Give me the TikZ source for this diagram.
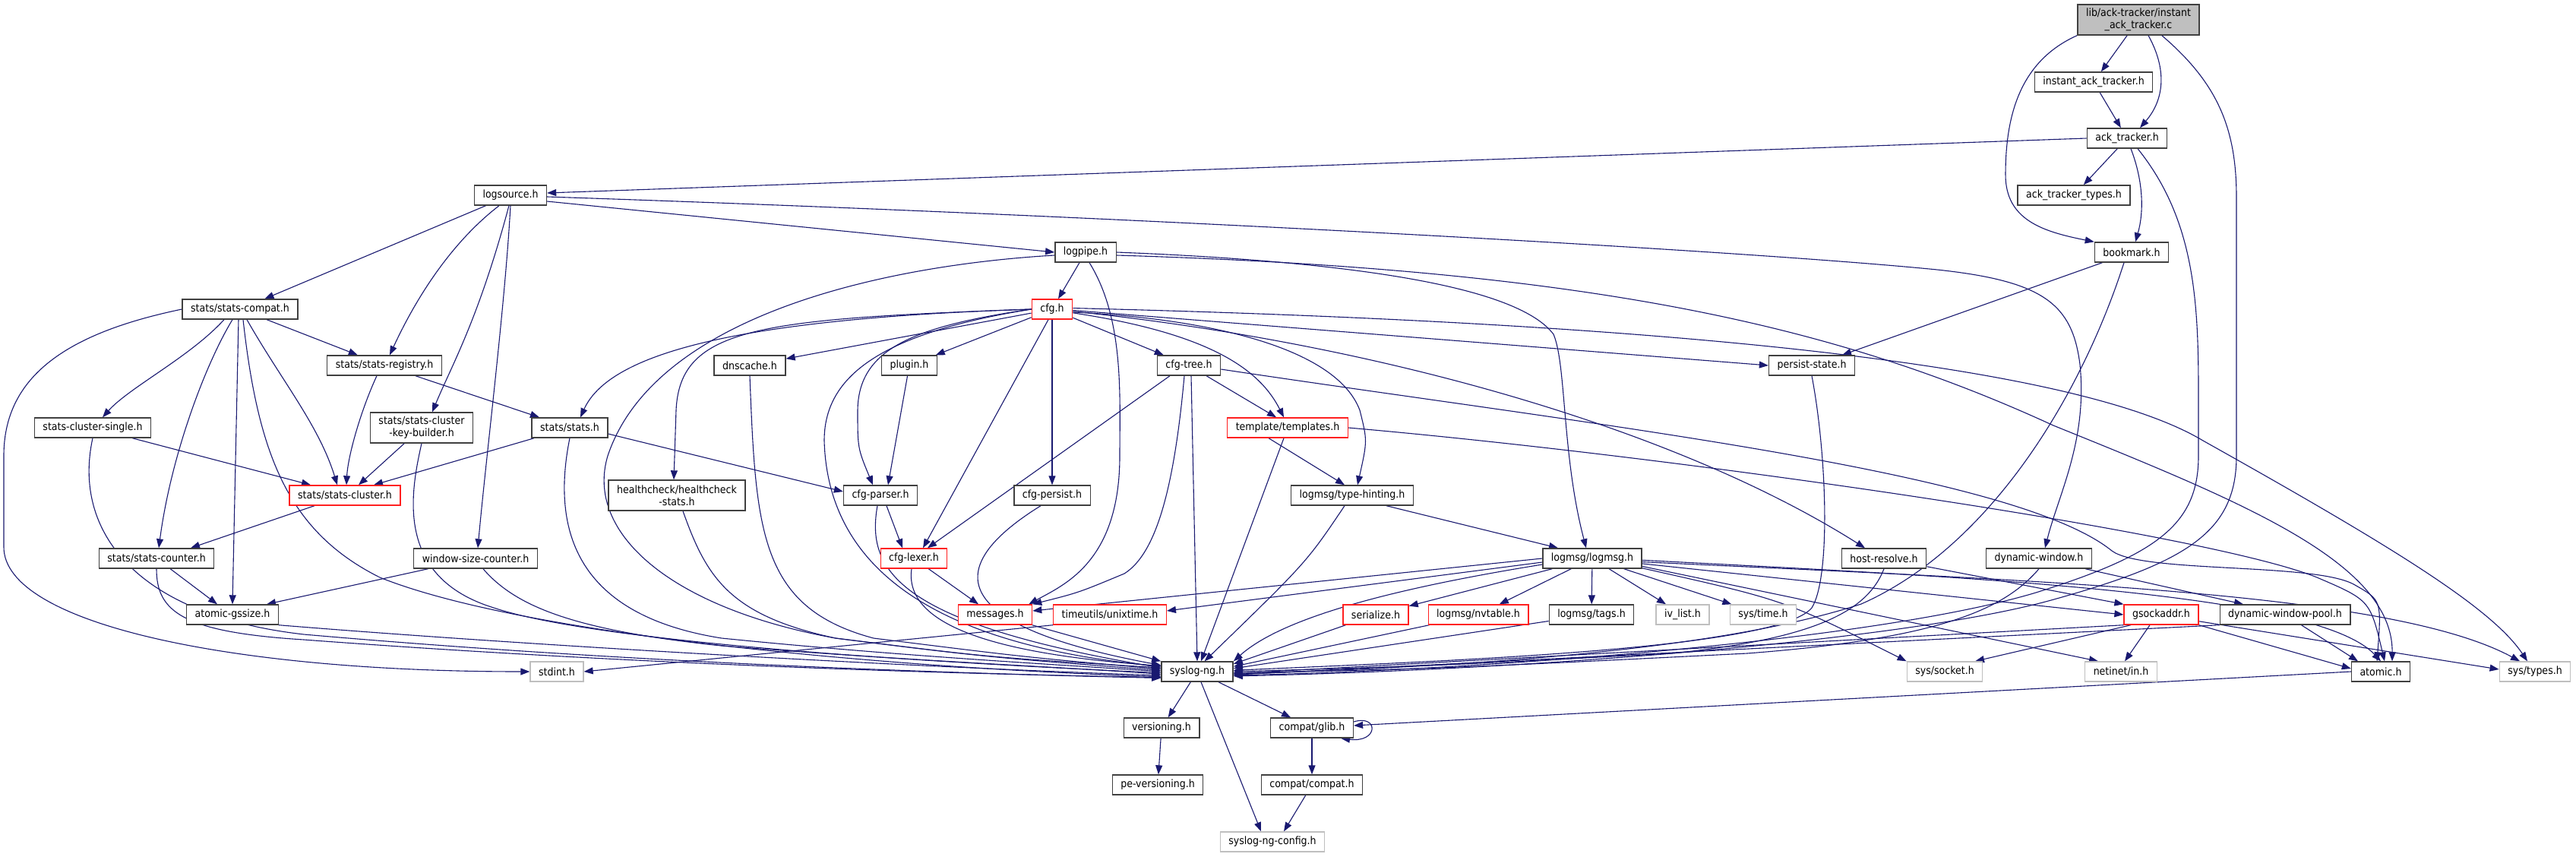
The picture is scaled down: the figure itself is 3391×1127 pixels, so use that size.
\documentclass[tikz,border=0pt]{standalone}
\usepackage{fontspec}
\setmainfont{DejaVu Sans Condensed}
\usetikzlibrary{arrows.meta,calc}
\pgfdeclarelayer{bg}
\pgfsetlayers{bg,main}
\definecolor{edgec}{HTML}{191970}
\definecolor{bord}{HTML}{404040}
\definecolor{greyb}{HTML}{BFBFBF}
\definecolor{redb}{HTML}{FF2020}
\begin{document}
\begin{tikzpicture}[x=1pt,y=-1pt,
  nd/.style={draw=bord,line width=1.4pt,fill=white,inner xsep=11pt,inner ysep=0pt,minimum height=26pt,font=\fontsize{14}{16}\selectfont,text=black},
  nd2/.style={nd,align=center,minimum height=40pt},
  rd/.style={nd,draw=redb},
  gd/.style={nd,draw=greyb},
  edg/.style={draw=edgec,line width=1.1pt,-{Triangle[length=12pt,width=9pt]}}]
\useasboundingbox (0,0) rectangle (3391,1127);
% nodes
\node[nd2,fill=greyb] (root) at (2815,26) {lib/ack-tracker/instant\\\_ack\_tracker.c};
\node[nd] (iat) at (2756,108) {instant\_ack\_tracker.h};
\node[nd] (at) at (2800,182) {ack\_tracker.h};
\node[nd] (att) at (2730,257) {ack\_tracker\_types.h};
\node[nd] (bm) at (2806,332) {bookmark.h};
\node[nd] (ls) at (672,257) {logsource.h};
\node[nd] (lp) at (1429,332) {logpipe.h};
\node[nd] (sc) at (316,407) {stats/stats-compat.h};
\node[rd] (cfg) at (1385,407) {cfg.h};
\node[nd] (sr) at (506,481) {stats/stats-registry.h};
\node[nd] (dns) at (987,481) {dnscache.h};
\node[nd] (plg) at (1197,481) {plugin.h};
\node[nd] (ctree) at (1565,481) {cfg-tree.h};
\node[nd] (ps) at (2385,481) {persist-state.h};
\node[nd] (scs) at (122,563) {stats-cluster-single.h};
\node[nd2] (skb) at (555,563) {stats/stats-cluster\\-key-builder.h};
\node[nd] (st) at (750,563) {stats/stats.h};
\node[rd] (tpl) at (1695,563) {template/templates.h};
\node[rd] (scl) at (454,652) {stats/stats-cluster.h};
\node[nd2] (hc) at (891,652) {healthcheck/healthcheck\\-stats.h};
\node[nd] (cp) at (1159,652) {cfg-parser.h};
\node[nd] (cpe) at (1385,652) {cfg-persist.h};
\node[nd] (th) at (1780,652) {logmsg/type-hinting.h};
\node[nd] (sco) at (206,735) {stats/stats-counter.h};
\node[nd] (wsc) at (626,735) {window-size-counter.h};
\node[rd] (lex) at (1203,735) {cfg-lexer.h};
\node[nd] (lm) at (2096,735) {logmsg/logmsg.h};
\node[nd] (hr) at (2480,735) {host-resolve.h};
\node[nd] (dw) at (2684,735) {dynamic-window.h};
\node[nd] (ag) at (306,809) {atomic-gssize.h};
\node[rd] (msg) at (1310,809) {messages.h};
\node[rd] (ut) at (1461,809) {timeutils/unixtime.h};
\node[rd] (ser) at (1811,809) {serialize.h};
\node[rd] (nvt) at (1946,809) {logmsg/nvtable.h};
\node[nd] (tags) at (2095,809) {logmsg/tags.h};
\node[gd] (ivl) at (2215,809) {iv\_list.h};
\node[gd] (stime) at (2321,809) {sys/time.h};
\node[rd] (gsa) at (2845,809) {gsockaddr.h};
\node[nd] (dwp) at (3008,809) {dynamic-window-pool.h};
\node[gd] (sint) at (733,884) {stdint.h};
\node[nd] (sng) at (1576,884) {syslog-ng.h};
\node[gd] (ssock) at (2560,884) {sys/socket.h};
\node[gd] (nin) at (2792,884) {netinet/in.h};
\node[nd] (atm) at (3134,884) {atomic.h};
\node[gd] (stypes) at (3337,884) {sys/types.h};
\node[nd] (ver) at (1529,958) {versioning.h};
\node[nd] (glib) at (1727,958) {compat/glib.h};
\node[nd] (pev) at (1524,1033) {pe-versioning.h};
\node[nd] (compat) at (1727,1033) {compat/compat.h};
\node[gd] (cfgh) at (1675,1108) {syslog-ng-config.h};
\begin{pgfonlayer}{bg}
\fill[white] (0,0) rectangle (3391,1127);
% top
\draw[edg] (root) -- (iat);
\draw[edg] ([xshift=13pt]root.south) .. controls (2852,90) and (2850,130) .. ([xshift=17pt]at.north);
\draw[edg] (root.south west) .. controls (2660,80) and (2640,150) .. (2640,230) .. controls (2640,290) and (2690,305) .. (bm.north west);
\draw[edg] ([xshift=-50pt]root.south east) .. controls (2920,110) and (2944,170) .. (2944,260) -- (2944,600) .. controls (2944,700) and (2880,740) .. (2700,790) .. controls (2500,845) and (2000,882) .. (sng.-7);
\draw[edg] (iat) -- (at);
\draw[edg] (at) -- (att);
\draw[edg] ([xshift=5pt]at.south) .. controls (2822,240) and (2822,280) .. ([xshift=5pt]bm.north);
\draw[edg] ([xshift=14pt]at.south) .. controls (2890,290) and (2894,400) .. (2894,520) -- (2894,600) .. controls (2894,690) and (2840,730) .. (2680,780) .. controls (2480,840) and (2000,880) .. (sng.-6);
\draw[edg] (at.west) -- ([yshift=3pt]ls.east);
\draw[edg] (bm) -- ([xshift=40pt]ps.north);
\draw[edg] ([xshift=-10pt]bm.south) .. controls (2740,520) and (2620,720) .. (2450,795) .. controls (2250,860) and (1900,878) .. (sng.-4);
% logsource
\draw[edg] ([yshift=-8pt]ls.east) -- (lp.west);
\draw[edg] ([yshift=-2pt]ls.east) .. controls (1500,285) and (2300,330) .. (2550,355) .. controls (2690,370) and (2728,400) .. (2738,480) .. controls (2748,580) and (2710,650) .. ([xshift=8pt]dw.north);
\draw[edg] (ls) -- (sc);
\draw[edg] ([xshift=-15pt]ls.south) .. controls (580,330) and (535,420) .. ([xshift=7pt]sr.north);
\draw[edg] ([xshift=-2pt]ls.south) .. controls (630,420) and (595,480) .. ([xshift=14pt]skb.north);
\draw[edg] (ls.south) .. controls (665,400) and (640,600) .. ([xshift=3pt]wsc.north);
% stats-compat
\draw[edg] (sc) -- (sr);
\draw[edg] ([xshift=-21pt]sc.south) .. controls (250,470) and (170,510) .. ([xshift=13pt]scs.north);
\draw[edg] ([xshift=-10pt]sc.south) .. controls (270,480) and (225,600) .. ([xshift=3pt]sco.north);
\draw[edg] ([xshift=-2pt]sc.south) -- (ag.north);
\draw[edg] ([xshift=4pt]sc.south) .. controls (340,600) and (380,700) .. (500,760) .. controls (700,840) and (1200,880) .. (sng.188);
\draw[edg] ([xshift=9pt]sc.south) .. controls (370,500) and (420,560) .. ([xshift=-10pt]scl.north);
\draw[edg] (sc.west) .. controls (80,440) and (5,500) .. (5,600) -- (5,720) .. controls (5,820) and (300,884) .. (sint.west);
% registry etc
\draw[edg] (sr) -- ([xshift=-40pt]st.north);
\draw[edg] ([xshift=-10pt]sr.south) .. controls (475,540) and (458,600) .. ([xshift=2pt]scl.north);
\draw[edg] (scs) -- ([xshift=-45pt]scl.north);
\draw[edg] (skb) -- ([xshift=18pt]scl.north);
\draw[edg] (st) -- ([xshift=38pt]scl.north);
\draw[edg] (scl) -- ([xshift=45pt]sco.north);
\draw[edg] (sco) -- ([xshift=-20pt]ag.north);
\draw[edg] (wsc) -- ([xshift=45pt]ag.north);
\draw[edg] ([yshift=-8pt]st.east) -- ([yshift=5pt]cp.west);
% into syslog-ng from the left
\draw[edg] (scs.south) .. controls (95,700) and (180,810) .. (400,835) .. controls (800,870) and (1200,885) .. (sng.190);
\draw[edg] (sco.south) .. controls (206,805) and (240,832) .. (400,842) .. controls (800,872) and (1200,886) .. (sng.189);
\draw[edg] (ag.south east) .. controls (700,850) and (1200,878) .. (sng.186);
\draw[edg] ([xshift=10pt]wsc.south) .. controls (680,800) and (760,830) .. (950,850) .. controls (1200,870) and (1400,878) .. (sng.184);
\draw[edg] (skb.south) .. controls (540,650) and (520,760) .. (650,800) .. controls (800,850) and (1300,875) .. (sng.182);
\draw[edg] (st.south) .. controls (725,700) and (760,810) .. (950,840) .. controls (1200,865) and (1400,875) .. (sng.180);
\draw[edg] ([xshift=8pt]hc.south) .. controls (930,760) and (960,810) .. (1100,840) .. controls (1300,865) .. (sng.178);
\draw[edg] (dns.south) .. controls (995,700) and (1000,800) .. (1150,840) .. controls (1350,865) .. (sng.176);
\draw[edg] ([yshift=-4pt]lp.west) .. controls (1150,350) and (860,420) .. (800,600) .. controls (770,700) and (880,800) .. (1100,840) .. controls (1300,865) .. (sng.174);
\draw[edg] (cfg.west) .. controls (1150,440) and (1085,500) .. (1085,580) .. controls (1090,760) and (1250,850) .. (sng.172);
\draw[edg] ([xshift=-4pt]cp.south) .. controls (1140,750) and (1180,820) .. (sng.174);
\draw[edg] ([xshift=-3pt]lex.south) .. controls (1190,820) and (1300,860) .. (sng.171);
\draw[edg] ([xshift=-15pt]cpe.south) .. controls (1250,740) and (1230,820) .. (sng.170);
\draw[edg] (msg) -- (sng.north west);
% logpipe / cfg
\draw[edg] (lp) -- (cfg);
\draw[edg] ([xshift=5pt]lp.south) .. controls (1480,420) and (1474,520) .. (1474,600) .. controls (1474,740) and (1400,770) .. ([xshift=-5pt]msg.north east);
\draw[edg] (lp.east) .. controls (1800,345) and (2000,380) .. (2045,440) .. controls (2062,480) and (2056,600) .. ([xshift=-8pt]lm.north);
\draw[edg] ([yshift=-4pt]lp.east) .. controls (2100,355) and (2420,430) .. (2703,560) .. controls (2950,660) and (3150,740) .. ([xshift=15pt]atm.north);
\draw[edg] (cfg) -- (dns);
\draw[edg] (cfg) -- (plg);
\draw[edg] (cfg) -- (ctree);
\draw[edg] (cfg.south) -- (cpe.north);
\draw[edg] ([xshift=-5pt]cfg.south) -- ([xshift=12pt]lex.north);
\draw[edg] (cfg.west) .. controls (950,420) and (800,470) .. ([xshift=14pt]st.north);
\draw[edg] (cfg.west) .. controls (1000,420) and (895,430) .. (890,540) -- ([xshift=-4pt]hc.north);
\draw[edg] (cfg.west) .. controls (1200,430) and (1130,460) .. (1129,540) .. controls (1129,590) .. ([xshift=-10pt]cp.north);
\draw[edg] (plg) -- ([xshift=10pt]cp.north);
\draw[edg] ([xshift=8pt]cp.south) -- ([xshift=-15pt]lex.north);
\draw[edg] (lex) -- ([xshift=-22pt]msg.north);
\draw[edg] (cfg.-10) .. controls (1600,440) and (1660,490) .. ([xshift=-5pt]tpl.north);
\draw[edg] (cfg.-8) .. controls (1600,420) and (1760,460) .. (1790,540) .. controls (1800,580) .. ([xshift=7pt]th.north);
\draw[edg] (cfg.-3) -- (ps.west);
\draw[edg] (cfg.-6) .. controls (1800,450) and (2200,560) .. ([xshift=-25pt]hr.north);
\draw[edg] (cfg.3) .. controls (2000,420) and (2700,460) .. (2900,580) .. controls (3150,720) and (3280,800) .. ([xshift=-10pt]stypes.north);
% cfg-tree
\draw[edg] (ctree) -- ([xshift=-15pt]tpl.north);
\draw[edg] ([xshift=-25pt]ctree.south) -- ([xshift=18pt]lex.north);
\draw[edg] ([xshift=-6pt]ctree.south) .. controls (1545,650) and (1520,730) .. (1480,755) .. controls (1420,780) .. (msg.north east);
\draw[edg] ([xshift=3pt]ctree.south) -- (sng.north);
\draw[edg] ([yshift=-5pt]ctree.east) .. controls (2100,560) and (2650,620) .. (2780,725) .. controls (2820,755) and (3050,740) .. (3100,770) .. controls (3135,790) .. ([xshift=-5pt]atm.north);
% templates
\draw[edg] ([xshift=-25pt]tpl.south) -- ([xshift=-10pt]th.north);
\draw[edg] ([xshift=-5pt]tpl.south) -- (sng.70);
\draw[edg] (tpl.east) .. controls (2200,600) and (2900,700) .. (3050,760) .. controls (3120,790) .. ([xshift=5pt]atm.north);
% type-hinting
\draw[edg] ([xshift=45pt]th.south) -- ([xshift=-45pt]lm.north);
\draw[edg] ([xshift=-10pt]th.south) .. controls (1720,740) .. (sng.55);
% logmsg
\draw[edg] (lm.west) -- ([yshift=5pt]msg.east);
\draw[edg] ([yshift=-5pt]lm.west) -- ([yshift=5pt]ut.east);
\draw[edg] ([yshift=-8pt]lm.west) .. controls (1800,780) and (1680,820) .. (sng.north east);
\draw[edg] (lm) -- (ser);
\draw[edg] (lm) -- (nvt);
\draw[edg] (lm) -- (tags);
\draw[edg] (lm) -- (ivl);
\draw[edg] (lm) -- (stime);
\draw[edg] (lm.-11) .. controls (2350,790) .. (ssock.north west);
\draw[edg] (lm.-9) -- ([xshift=-30pt]nin.north);
\draw[edg] (lm.-6) -- (gsa.west);
\draw[edg] (lm.-2) .. controls (2600,760) and (3050,780) .. (atm.north);
\draw[edg] (lm.-4) .. controls (2700,765) and (3150,780) .. ([xshift=-20pt]stypes.north);
% into syslog-ng from the right
\draw[edg] (ser) -- (sng.12);
\draw[edg] (nvt) -- (sng.8);
\draw[edg] (tags) -- (sng.5);
\draw[edg] (ps.south) .. controls (2405,600) and (2410,760) .. (2385,800) .. controls (2340,855) and (1900,870) .. (sng.2);
\draw[edg] (hr.south) .. controls (2460,800) and (2400,840) .. (2200,860) .. controls (1900,876) .. (sng.0);
\draw[edg] (dw.south) .. controls (2640,800) and (2560,840) .. (2300,860) .. controls (1900,880) .. (sng.-2);
\draw[edg] (gsa.south west) -- (sng.-3);
\draw[edg] (dwp.south west) -- (sng.-5);
% gsockaddr etc
\draw[edg] (hr) -- (gsa.north west);
\draw[edg] ([xshift=-40pt]gsa.south) -- ([xshift=40pt]ssock.north);
\draw[edg] ([xshift=-15pt]gsa.south) -- ([xshift=5pt]nin.north);
\draw[edg] (gsa.south east) -- ([yshift=4pt]atm.west);
\draw[edg] (gsa.-10) -- ([yshift=3pt]stypes.west);
\draw[edg] (dw) -- ([xshift=-55pt]dwp.north);
\draw[edg] (dwp) -- ([xshift=-30pt]atm.north);
% bottom
\draw[edg] (ut.south west) -- (sint.east);
\draw[edg] (sng) -- (ver);
\draw[edg] (sng) -- (glib);
\draw[edg] ([xshift=5pt]sng.south) -- ([xshift=-15pt]cfgh.north);
\draw[edg] (ver) -- (pev);
\draw[edg] (glib) -- (compat);
\draw[edg] (compat) -- ([xshift=15pt]cfgh.north);
\draw[edg] (atm.west) -- ([yshift=3pt]glib.east);
\draw[edg] ([yshift=8pt]glib.east) .. controls (1815,940) and (1815,978) .. ([xshift=38pt]glib.south);
\end{pgfonlayer}
\end{tikzpicture}
\end{document}
